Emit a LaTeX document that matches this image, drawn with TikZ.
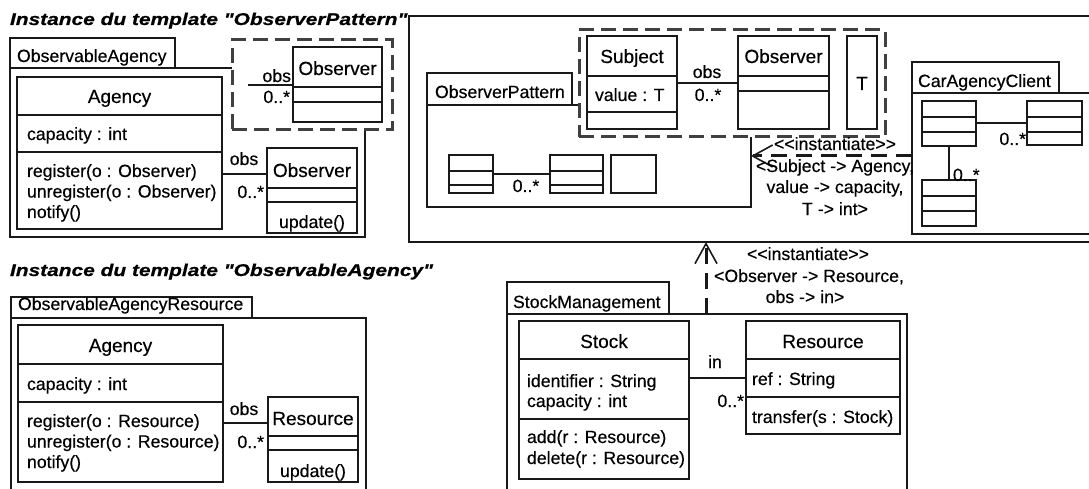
\documentclass[tikz,border=0pt]{standalone}
\usepackage{fontspec}
\setmainfont{Liberation Sans}[Ligatures=TeXOff, FakeBold=0.4]
\newfontfamily\ttlfont{Liberation Sans}[FakeStretch=1.23, FakeBold=0.6, Ligatures=TeXOff]
\usetikzlibrary{arrows.meta}
\newcommand{\bx}[6][box]{\pgfmathsetmacro\bw{#5-#3}\pgfmathsetmacro\bh{#6-#4}%
  \node[#1, minimum width=\bw pt, minimum height=\bh pt] (#2) at (#3,#4) {};}
\newcommand{\cmp}[2]{\draw[ln] (#1.west |- 0,#2) -- (#1.east |- 0,#2);}
\begin{document}
\begin{tikzpicture}[x=1pt,y=-1pt,
  ln/.style={line width=1.4pt, draw=black!90},
  box/.style={ln, inner sep=0pt, outer sep=0pt, anchor=north west, fill=white},
  tmpl/.style={draw=black!75, line width=3pt, dash pattern=on 15pt off 7pt, fill=white, inner sep=0pt, outer sep=0pt, anchor=north west},
  t/.style={inner sep=0pt, outer sep=0pt, font=\fontsize{17.7}{20}\selectfont},
  tn/.style={inner sep=0pt, outer sep=0pt, anchor=base, font=\fontsize{19}{22}\selectfont},
  ttl/.style={inner sep=0pt, outer sep=0pt, anchor=base west, font=\ttlfont\fontsize{17}{20}\selectfont\bfseries\itshape},
  dep/.style={line width=3pt, draw=black!90, dash pattern=on 16pt off 9pt, -{Straight Barb[length=20pt,width=22pt,line width=1.6pt]}},
]
\useasboundingbox (0,0) rectangle (1089,489);
\clip (0,0) rectangle (1089,489);

% ---------- big package (template instantiation area) ----------
\bx{big}{409}{16}{1110}{242}
\node[ttl] (title1) at (10,25) {Instance du template "ObserverPattern"};

% ---------- ObservableAgency ----------
\bx{oatab}{10}{38}{175}{68}
\bx{oabody}{10}{68}{365}{237}
\node[t, anchor=base west] (oaname) at (17,62) {ObservableAgency};
\bx[tmpl]{oatpl}{232}{40}{392}{130}
\bx{oaobs}{293}{47}{382}{122}
\cmp{oaobs}{87}\cmp{oaobs}{102}
\node[tn] (oaobsn) at (337.5,75) {Observer};
\coordinate (oastub) at (248,85);
\draw[ln] (oastub) -- (oaobs.west |- oastub);
\node[t, anchor=base east] (oaobsl) at (291,82) {obs};
\node[t, anchor=base east] (oamul) at (290,103) {0..*};

\bx{ag1}{17}{77}{222}{229}
\cmp{ag1}{115}\cmp{ag1}{152}
\node[tn] (ag1n) at (119.5,103) {Agency};
\node[t, anchor=base west] (ag1a) at (27,140) {capacity : int};
\node[t, anchor=base west] (ag1m1) at (27,177) {register(o : Observer)};
\node[t, anchor=base west] (ag1m2) at (27,197.5) {unregister(o : Observer)};
\node[t, anchor=base west] (ag1m3) at (27,218) {notify()};
\bx{obs2}{267}{148}{357}{233}
\cmp{obs2}{188}\cmp{obs2}{202}
\node[tn] (obs2n) at (312,177) {Observer};
\node[t, anchor=base] (obs2m) at (312,228) {update()};
\coordinate (a1) at (0,174);
\draw[ln] (ag1.east |- a1) -- (obs2.west |- a1);
\node[t, anchor=base] (a1r) at (244,165) {obs};
\node[t, anchor=base east] (a1m) at (264,198) {0..*};

% ---------- ObserverPattern ----------
\bx{optab}{427}{73}{572}{105}
\bx{opbody}{427}{105}{751}{207}
\node[t, anchor=base west] (opname) at (435,98) {ObserverPattern};
\bx[tmpl]{optpl}{579}{30}{885}{137}
\bx{subj}{587}{36}{677}{129}
\cmp{subj}{76}\cmp{subj}{112}
\node[tn] (subjn) at (632,63) {Subject};
\node[t, anchor=base west] (subja) at (595,101) {value : T};
\bx{obs3}{738}{36}{829}{129}
\cmp{obs3}{76}\cmp{obs3}{91}
\node[tn] (obs3n) at (783.5,63) {Observer};
\bx{tcl}{847}{36}{877}{129}
\node[tn] (tcln) at (862,90) {T};
\coordinate (a2) at (0,83);
\draw[ln] (subj.east |- a2) -- (obs3.west |- a2);
\node[t, anchor=base] (a2r) at (707,78) {obs};
\node[t, anchor=base] (a2m) at (708,101) {0..*};

\bx{s1}{449}{155}{493}{193}
\cmp{s1}{171}\cmp{s1}{185}
\bx{s2}{550}{155}{603}{193}
\cmp{s2}{171}\cmp{s2}{185}
\bx{s3}{611}{155}{656}{193}
\coordinate (a5) at (0,174);
\draw[ln] (s1.east |- a5) -- (s2.west |- a5);
\node[t, anchor=base] (a5m) at (526,192) {0..*};

% ---------- CarAgencyClient ----------
\bx{cactab}{912}{62}{1059}{93}
\bx{cacbody}{912}{93}{1110}{234}
\node[t, anchor=base west] (cacname) at (918,87) {CarAgencyClient};
\bx{ca}{922}{101}{976}{146}
\cmp{ca}{117}\cmp{ca}{132}
\bx{cb}{1027}{101}{1082}{145}
\cmp{cb}{117}\cmp{cb}{132}
\bx{cc}{922}{180}{976}{226}
\cmp{cc}{196}\cmp{cc}{211}
\coordinate (a3) at (0,123);
\draw[ln] (ca.east |- a3) -- (cb.west |- a3);
\node[t, anchor=base east] (a3m) at (1026,145) {0..*};
\coordinate (a4) at (949,0);
\draw[ln] (ca.south -| a4) -- (cc.north -| a4);
\node[t, anchor=base west] (a4m) at (953,181) {0..*};

% instantiate 1
\coordinate (d1) at (0,156);
\draw[dep] (cacbody.west |- d1) -- (opbody.east |- d1);
\node[t, anchor=base] (d1l1) at (835,150) {<<instantiate>>};
\node[t, anchor=base] (d1l2) at (835,172) {<Subject -> Agency,};
\node[t, anchor=base] (d1l3) at (835,193) {value -> capacity,};
\node[t, anchor=base] (d1l4) at (835,215) {T -> int>};

% ---------- ObservableAgencyResource ----------
\node[ttl] (title2) at (10,276) {Instance du template "ObservableAgency"};
\bx{oartab}{11}{297}{252}{318}
\bx{oarbody}{11}{318}{366}{520}
\node[t, anchor=base west] (oarname) at (18,310) {ObservableAgencyResource};
\bx{ag2}{18}{325}{223}{482}
\cmp{ag2}{364}\cmp{ag2}{402}
\node[tn] (ag2n) at (120.5,352) {Agency};
\node[t, anchor=base west] (ag2a) at (27,390) {capacity : int};
\node[t, anchor=base west] (ag2m1) at (27,427) {register(o : Resource)};
\node[t, anchor=base west] (ag2m2) at (27,447.5) {unregister(o : Resource)};
\node[t, anchor=base west] (ag2m3) at (27,468) {notify()};
\bx{res2}{268}{397}{358}{482}
\cmp{res2}{436}\cmp{res2}{450}
\node[tn] (res2n) at (313,425) {Resource};
\node[t, anchor=base] (res2m) at (313,477) {update()};
\coordinate (a6) at (0,423);
\draw[ln] (ag2.east |- a6) -- (res2.west |- a6);
\node[t, anchor=base] (a6r) at (244,415) {obs};
\node[t, anchor=base east] (a6m) at (264,448) {0..*};

% ---------- StockManagement ----------
\bx{smtab}{507}{282}{669}{314}
\bx{smbody}{507}{314}{907}{520}
\node[t, anchor=base west] (smname) at (513,308) {StockManagement};
\bx{stock}{519}{321}{689}{479}
\cmp{stock}{359}\cmp{stock}{419}
\node[tn] (stockn) at (604,348) {Stock};
\node[t, anchor=base west] (stocka1) at (527,387) {identifier : String};
\node[t, anchor=base west] (stocka2) at (527,407) {capacity : int};
\node[t, anchor=base west] (stockm1) at (527,443) {add(r : Resource)};
\node[t, anchor=base west] (stockm2) at (527,464) {delete(r : Resource)};
\bx{res}{746}{321}{900}{434}
\cmp{res}{359}\cmp{res}{397}
\node[tn] (resn) at (823,348) {Resource};
\node[t, anchor=base west] (resa) at (752,385) {ref : String};
\node[t, anchor=base west] (resm) at (752,423) {transfer(s : Stock)};
\coordinate (a7) at (0,378);
\draw[ln] (stock.east |- a7) -- (res.west |- a7);
\node[t, anchor=base] (a7r) at (715,368) {in};
\node[t, anchor=base east] (a7m) at (744,407) {0..*};

% instantiate 2
\coordinate (d2) at (706,0);
\draw[dep] (smbody.north -| d2) -- (big.south -| d2);
\node[t, anchor=base] (d2l1) at (808,260) {<<instantiate>>};
\node[t, anchor=base] (d2l2) at (809,282) {<Observer -> Resource,};
\node[t, anchor=base] (d2l3) at (805,303) {obs -> in>};
\end{tikzpicture}
\end{document}
